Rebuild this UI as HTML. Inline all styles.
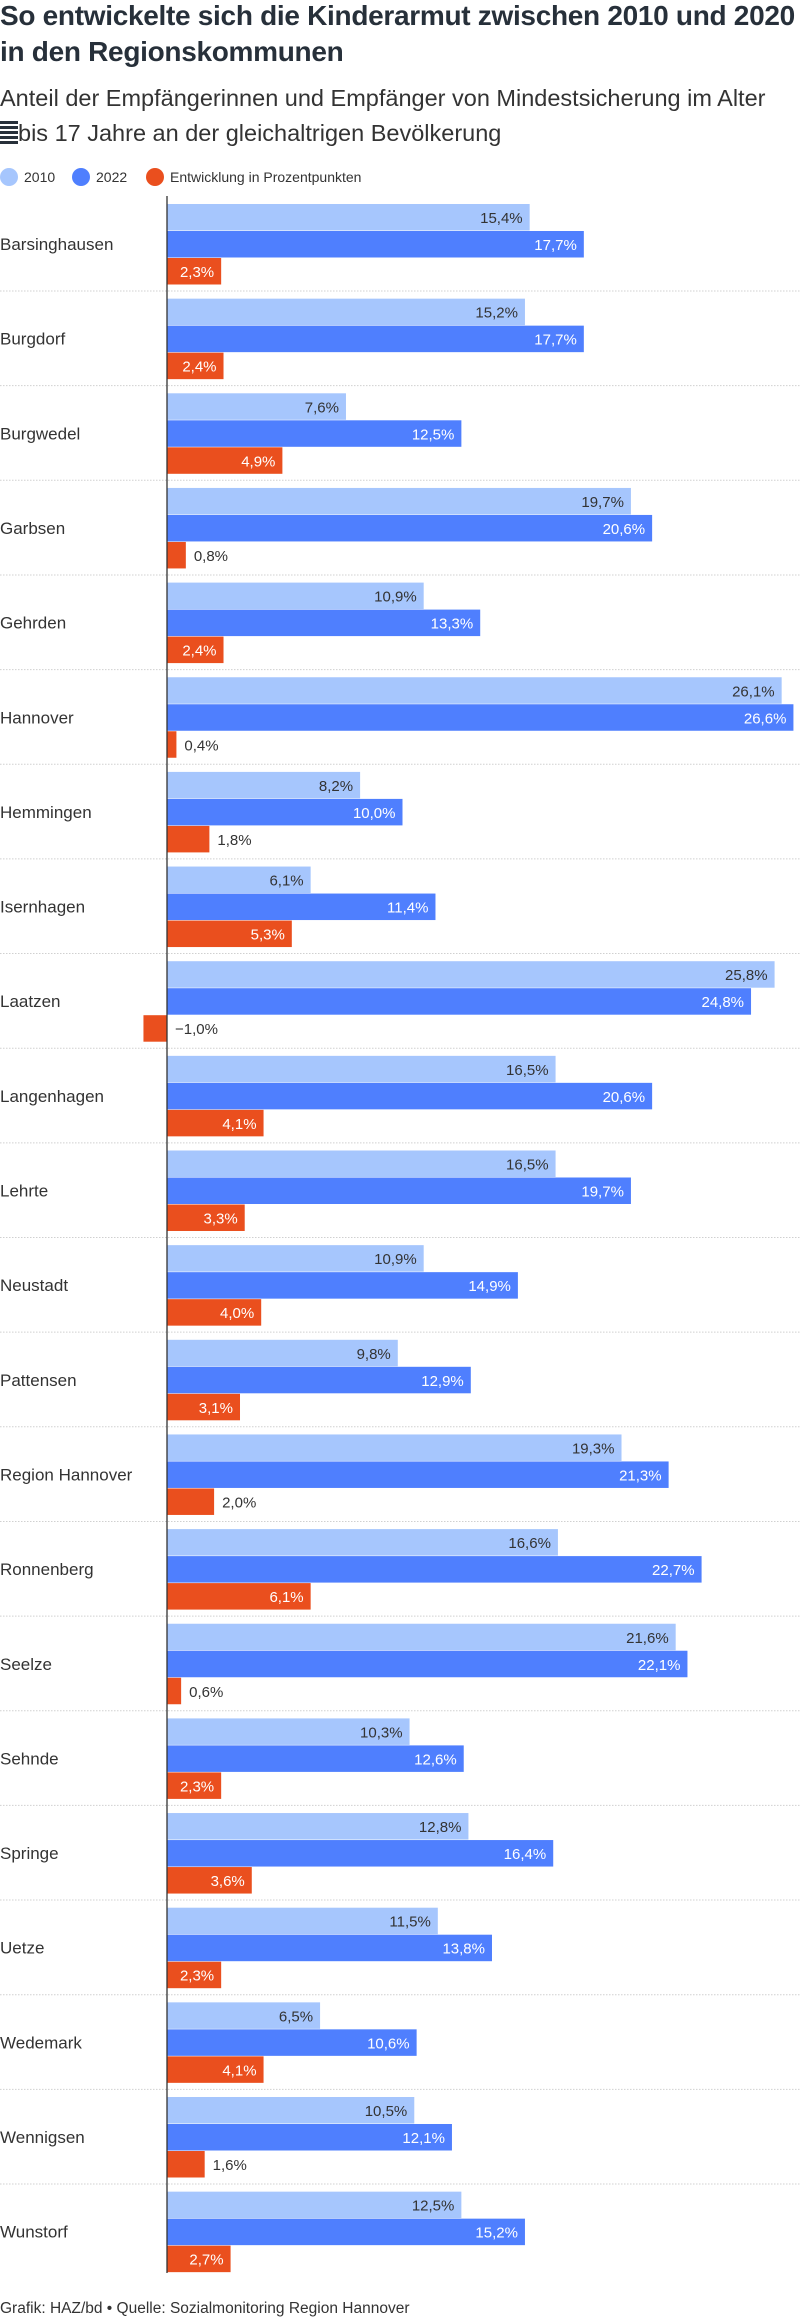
<!DOCTYPE html>
<html><head><meta charset="utf-8">
<style>
body{margin:0;background:#fff;width:800px;height:2320px;overflow:hidden;font-family:"Liberation Sans",sans-serif;color:#333;position:relative}
.t{position:absolute;left:0;font-weight:bold;font-size:28px;color:#27303a;letter-spacing:-0.3px;white-space:nowrap}
.s{position:absolute;left:0;font-size:23.5px;color:#333;white-space:nowrap}
.leg{position:absolute;top:168px;font-size:14px;display:flex;align-items:center;gap:6px}
.dot{width:18px;height:18px;border-radius:50%;display:inline-block}
#chart{position:absolute;left:0;top:0}
.f{position:absolute;left:0;top:2300px;font-size:15.5px;color:#333}
</style></head><body>
<div class="t" style="top:0px">So entwickelte sich die Kinderarmut zwischen 2010 und 2020</div>
<div class="t" style="top:36px">in den Regionskommunen</div>
<div class="s" style="top:85px">Anteil der Empfängerinnen und Empfänger von Mindestsicherung im Alter</div>
<div class="s" style="top:120px"><span style="display:inline-block;width:18px;height:24px;background:repeating-linear-gradient(#27303a 0 3px,#fff 3px 5px);vertical-align:-4px"></span>bis 17 Jahre an der gleichaltrigen Bevölkerung</div>
<div class="leg" style="left:0"><span class="dot" style="background:#a6c6fd"></span>2010</div>
<div class="leg" style="left:72px"><span class="dot" style="background:#4f7ffe"></span>2022</div>
<div class="leg" style="left:146px"><span class="dot" style="background:#ea4f1e"></span>Entwicklung in Prozentpunkten</div>
<svg id="chart" width="800" height="2300"></svg>
<div class="f">Grafik: HAZ/bd • Quelle: Sozialmonitoring Region Hannover</div>
<script>
const categories=["Barsinghausen","Burgdorf","Burgwedel","Garbsen","Gehrden","Hannover","Hemmingen","Isernhagen","Laatzen","Langenhagen","Lehrte","Neustadt","Pattensen","Region Hannover","Ronnenberg","Seelze","Sehnde","Springe","Uetze","Wedemark","Wennigsen","Wunstorf"];
const values2010=[15.4,15.2,7.6,19.7,10.9,26.1,8.2,6.1,25.8,16.5,16.5,10.9,9.8,19.3,16.6,21.6,10.3,12.8,11.5,6.5,10.5,12.5];
const values2022=[17.7,17.7,12.5,20.6,13.3,26.6,10.0,11.4,24.8,20.6,19.7,14.9,12.9,21.3,22.7,22.1,12.6,16.4,13.8,10.6,12.1,15.2];
const valuesChange=[2.3,2.4,4.9,0.8,2.4,0.4,1.8,5.3,-1.0,4.1,3.3,4.0,3.1,2.0,6.1,0.6,2.3,3.6,2.3,4.1,1.6,2.7];
const svg=document.getElementById('chart');
const NS='http://www.w3.org/2000/svg';
const x0=167,k=23.55,top0=204,pitch=94.65,bh=26.5;
const xs=v=>x0+v*k;
const fmt=v=>(v<0?'−':'')+Math.abs(v).toFixed(1).replace('.',',')+'%';
function mk(tag,attrs){const e=document.createElementNS(NS,tag);for(const a in attrs)e.setAttribute(a,attrs[a]);svg.appendChild(e);return e;}
const series=[[values2010,'#a6c6fd','#333','2010'],[values2022,'#4f7ffe','#fff','2022'],[valuesChange,'#ea4f1e','#fff','change']];
categories.forEach((c,i)=>{
  const y=top0+i*pitch;
  const lab=mk('text',{x:0,y:y+46,'font-size':17,fill:'#333'});lab.textContent=c;
  
  
  if(i<categories.length-1){const l=mk('line',{x1:0,x2:800,y1:y+87,y2:y+87,stroke:'#d0d0d0','stroke-dasharray':'1.5 1.5'});
    
    }
  series.forEach((s,j)=>{
    const v=s[0][i],by=y+j*(bh+0.5);
    const xa=Math.min(xs(0),xs(v)),w=Math.abs(xs(v)-xs(0));
    const r=mk('rect',{x:xa,y:by,width:w,height:bh,fill:s[1]});
    
    
    let t;
    if(w>=50){t=mk('text',{x:xs(v)-7,y:by+19,'font-size':15,fill:s[2],'text-anchor':'end'});}
    else{t=mk('text',{x:(v<0?xs(0):xs(v))+8,y:by+19,'font-size':15,fill:'#333'});}
    t.textContent=fmt(v);
    
    
  });
});
const ax=mk('line',{x1:x0,x2:x0,y1:196,y2:2273,stroke:'#333','stroke-width':1.3});


</script>
</body></html>
